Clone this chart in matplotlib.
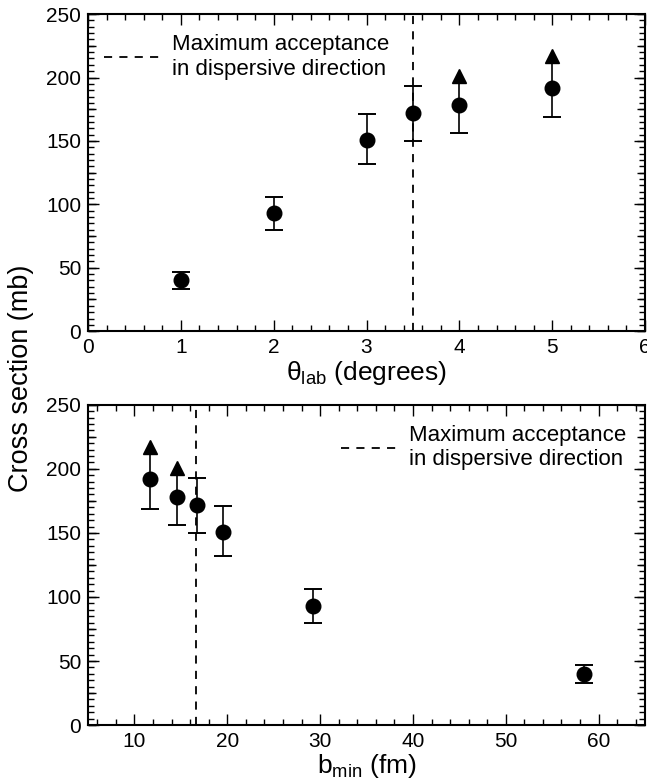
import matplotlib
matplotlib.use("Agg")
import matplotlib.pyplot as plt
from matplotlib.ticker import MultipleLocator, NullFormatter
from matplotlib.lines import Line2D
import numpy as np

plt.rcParams['font.family'] = ['Liberation Sans', 'DejaVu Sans']

# Data
theta_lab = [1.0, 2.0, 3.0, 3.5, 4.0, 5.0]
b_min = [58.4, 29.2, 19.5, 16.7, 14.6, 11.7]
sigma = [40, 93, 151, 172, 178, 192]
sigma_low = [33, 80, 132, 150, 156, 169]
sigma_high = [47, 106, 171, 193, 201, 217]
is_lower_limit = [False, False, False, False, True, True]
theta_acc = 3.5
b_acc = 16.6

fig = plt.figure(figsize=(6.47, 7.83), dpi=100)
ax1 = fig.add_axes([0.136, 0.577, 0.861, 0.405])
ax2 = fig.add_axes([0.136, 0.074, 0.861, 0.409])

DASH = (0, (4.5, 4))

def draw(ax, x, xacc):
    for xi, s, lo, hi, lim in zip(x, sigma, sigma_low, sigma_high, is_lower_limit):
        if lim:
            ax.vlines(xi, lo, hi, color='black', lw=1.2, zorder=2)
            ax.plot([xi], [lo], marker='_', ms=13, mew=1.4, color='black', zorder=2)
            ax.plot([xi], [hi], marker='^', ms=10, color='black', mec='black', zorder=3)
        else:
            ax.errorbar([xi], [s], yerr=[[s - lo], [hi - s]], fmt='none',
                        ecolor='black', elinewidth=1.2, capsize=6.5, capthick=1.4, zorder=2)
        ax.plot([xi], [s], 'o', ms=10.5, color='black', zorder=4)
    ax.axvline(xacc, color='black', ls=DASH, lw=1.3, zorder=1)
    ax.set_ylim(0, 250)
    ax.yaxis.set_major_locator(MultipleLocator(50))
    ax.yaxis.set_minor_locator(MultipleLocator(5))
    ax.tick_params(which='both', direction='in', top=True, right=True, labelsize=15, width=1.0)
    ax.tick_params(which='major', length=8, pad=5)
    ax.tick_params(which='minor', length=4)
    for sp in ax.spines.values():
        sp.set_linewidth(1.5)
    # medium-length ticks every 25 on both vertical spines
    for side in ('left', 'right'):
        sec = ax.secondary_yaxis(side)
        sec.yaxis.set_major_locator(MultipleLocator(25))
        sec.yaxis.set_major_formatter(NullFormatter())
        sec.tick_params(which='major', direction='in', length=6, width=1.0)
        sec.yaxis.set_minor_locator(MultipleLocator(250))
        sec.spines[side].set_visible(False)

draw(ax1, theta_lab, theta_acc)
ax1.set_xlim(0, 6)
ax1.xaxis.set_major_locator(MultipleLocator(1))
ax1.xaxis.set_minor_locator(MultipleLocator(0.2))
ax1.set_xlabel(r'$\mathregular{\theta_{lab}}$ (degrees)', fontsize=19, labelpad=1)

draw(ax2, b_min, b_acc)
ax2.set_xlim(5, 65)
ax2.xaxis.set_major_locator(MultipleLocator(10))
ax2.xaxis.set_minor_locator(MultipleLocator(2))
ax2.set_xlabel(r'$\mathregular{b_{min}}$ (fm)', fontsize=19, labelpad=1)

handle = Line2D([], [], color='black', ls=DASH, lw=1.3)
lab = 'Maximum acceptance\nin dispersive direction'
ax1.legend([handle], [lab], loc='upper left', bbox_to_anchor=(0.0, 0.985), frameon=False,
           fontsize=16, handlelength=2.5, handletextpad=0.6, borderaxespad=0.3)
ax2.legend([handle], [lab], loc='upper right', bbox_to_anchor=(0.995, 0.985), frameon=False,
           fontsize=16, handlelength=2.5, handletextpad=0.6, borderaxespad=0.3)

fig.text(0.033, 0.517, 'Cross section (mb)', rotation=90, va='center', ha='center', fontsize=19.5)

fig.savefig('out.png', dpi=100)
